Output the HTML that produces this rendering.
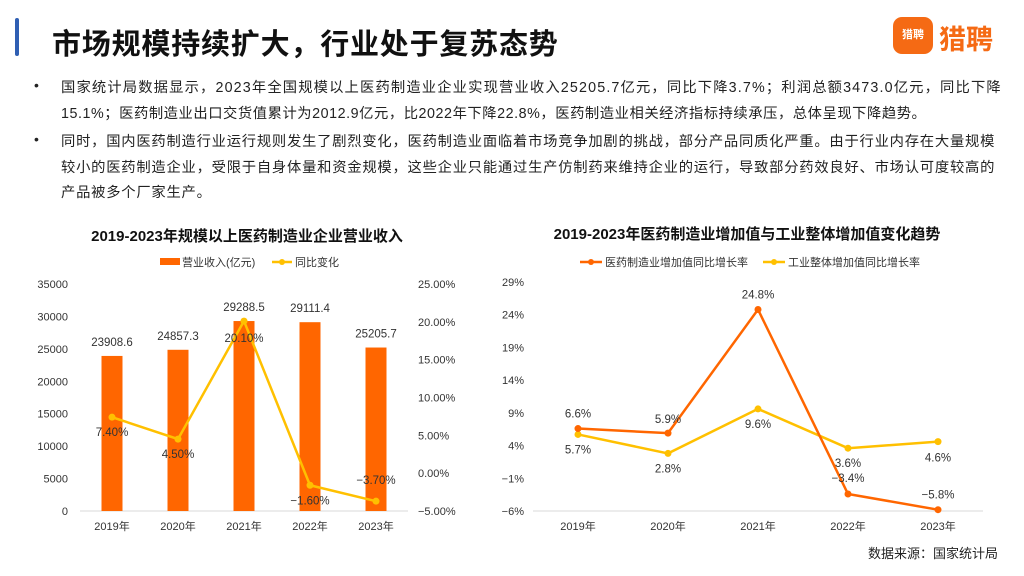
<!DOCTYPE html>
<html><head><meta charset="utf-8">
<style>
body{margin:0;width:1024px;height:576px;background:#fff;font-family:"Liberation Sans","Noto Sans CJK SC",sans-serif;position:relative;overflow:hidden;color:#222}
.bar{position:absolute;left:15px;top:18px;width:4px;height:38px;background:#2f5fb3;border-radius:2px}
.title{position:absolute;left:52px;top:21px;font-size:29px;font-weight:bold;color:#111;letter-spacing:0.8px;white-space:nowrap}
.logo{position:absolute;left:893px;top:17px;width:40px;height:37px;background:#f56a14;border-radius:9px;color:#fff;font-size:11px;font-weight:bold;text-align:center;line-height:37px}
.logot{position:absolute;left:939px;top:18px;font-size:27px;font-weight:bold;color:#f56a14}
.p{position:absolute;left:61px;font-size:14.3px;line-height:25.5px;color:#222;white-space:nowrap}
.p span{display:block}
.dot{position:absolute;left:34px;font-size:14px}
svg{position:absolute;left:0;top:0}
</style></head><body>
<div class="bar"></div>
<div class="title">市场规模持续扩大，行业处于复苏态势</div>
<div class="logo">猎聘</div>
<div class="logot">猎聘</div>
<div class="dot" style="top:77px">•</div>
<div class="p" style="top:76px"><span style="letter-spacing:1.15px">国家统计局数据显示，2023年全国规模以上医药制造业企业实现营业收入25205.7亿元，同比下降3.7%；利润总额3473.0亿元，同比下降</span><span style="letter-spacing:0.55px">15.1%；医药制造业出口交货值累计为2012.9亿元，比2022年下降22.8%，医药制造业相关经济指标持续承压，总体呈现下降趋势。</span></div>
<div class="dot" style="top:131px">•</div>
<div class="p" style="top:130px"><span style="letter-spacing:0.77px">同时，国内医药制造行业运行规则发生了剧烈变化，医药制造业面临着市场竞争加剧的挑战，部分产品同质化严重。由于行业内存在大量规模</span><span style="letter-spacing:0.77px">较小的医药制造企业，受限于自身体量和资金规模，这些企业只能通过生产仿制药来维持企业的运行，导致部分药效良好、市场认可度较高的</span><span style="letter-spacing:0.77px">产品被多个厂家生产。</span></div>
<div style="position:absolute;right:26px;top:543px;font-size:13px">数据来源：国家统计局</div>
<svg id="c" width="1024" height="576" font-family="Liberation Sans, Noto Sans CJK SC, sans-serif"></svg>
<script>
const years=["2019年","2020年","2021年","2022年","2023年"];
const revenue=[23908.6,24857.3,29288.5,29111.4,25205.7];
const yoy=[7.40,4.50,20.10,-1.60,-3.70];
const leftTicks=[0,5000,10000,15000,20000,25000,30000,35000];
const rightTicks=[-5,0,5,10,15,20,25];
const pharma=[6.6,5.9,24.8,-3.4,-5.8];
const industry=[5.7,2.8,9.6,3.6,4.6];
const growthTicks=[-6,-1,4,9,14,19,24,29];
const S=document.getElementById('c');
function el(t,a,txt){const e=document.createElementNS('http://www.w3.org/2000/svg',t);for(const k in a)e.setAttribute(k,a[k]);if(txt!==undefined)e.textContent=txt;S.appendChild(e);return e;}
// left chart
const lx=i=>112+i*66, ly=v=>511-v/35000*227, ry=v=>511-(v+5)/30*227;
let t=el('text',{x:247,y:241,'text-anchor':'middle','font-size':15,'font-weight':'bold',fill:'#111'},'2019-2023年规模以上医药制造业企业营业收入');

let r=el('rect',{x:160,y:258,width:20,height:7,fill:'#ff6600'});
el('text',{x:182,y:266,'font-size':11,fill:'#333'},'营业收入(亿元)');
let l=el('line',{x1:272,y1:262,x2:292,y2:262,stroke:'#ffc000','stroke-width':2.5});
el('circle',{cx:282,cy:262,r:3,fill:'#ffc000'});
el('text',{x:295,y:266,'font-size':11,fill:'#333'},'同比变化');
el('line',{x1:80,y1:511,x2:408,y2:511,stroke:'#d9d9d9'});
leftTicks.forEach(v=>{const e=el('text',{x:68,y:ly(v)+4,'text-anchor':'end','font-size':11,fill:'#333'},v);});
rightTicks.forEach(v=>{const e=el('text',{x:418,y:ry(v)+4,'font-size':11,fill:'#333'},(v<0?'−':'')+Math.abs(v).toFixed(2)+'%');});
years.forEach((y,i)=>{const e=el('text',{x:lx(i),y:530,'text-anchor':'middle','font-size':11,fill:'#333'},y);});
revenue.forEach((v,i)=>{const b=el('rect',{x:lx(i)-10.5,y:ly(v),width:21,height:511-ly(v),fill:'#ff6600'});
el('text',{x:lx(i),y:ly(v)-10,'text-anchor':'middle','font-size':11.5,fill:'#333'},v.toFixed(1));});
let p=el('polyline',{points:yoy.map((v,i)=>lx(i)+','+ry(v)).join(' '),fill:'none',stroke:'#ffc000','stroke-width':2.5});
yoy.forEach((v,i)=>{const c=el('circle',{cx:lx(i),cy:ry(v),r:3.5,fill:'#ffc000'});
const dy=(i==2)?21:(i==4?-17:19);el('text',{x:lx(i),y:ry(v)+dy,'text-anchor':'middle','font-size':11.5,fill:'#333'},(v<0?'−':'')+Math.abs(v).toFixed(2)+'%');});
// right chart
const gx=i=>578+i*90, gy=v=>511-(v+6)/35*229;
t=el('text',{x:747,y:239,'text-anchor':'middle','font-size':15,'font-weight':'bold',fill:'#111'},'2019-2023年医药制造业增加值与工业整体增加值变化趋势');

[[580,'#ff6600','医药制造业增加值同比增长率'],[763,'#ffc000','工业整体增加值同比增长率']].forEach(([x,c,s])=>{const g=el('line',{x1:x,y1:262,x2:x+22,y2:262,stroke:c,'stroke-width':2.5});el('circle',{cx:x+11,cy:262,r:3,fill:c});el('text',{x:x+25,y:266,'font-size':11,fill:'#333'},s);});
el('line',{x1:533,y1:511,x2:983,y2:511,stroke:'#d9d9d9'});
growthTicks.forEach(v=>{const e=el('text',{x:524,y:gy(v)+4,'text-anchor':'end','font-size':11,fill:'#333'},(v<0?'−':'')+Math.abs(v)+'%');});
years.forEach((y,i)=>{const e=el('text',{x:gx(i),y:530,'text-anchor':'middle','font-size':11,fill:'#333'},y);});
[[industry,'#ffc000','line-industry',[19,19,19,19,19]],[pharma,'#ff6600','line-pharma',[-11,-11,-11,-11,-11]]].forEach(([d,c,n,off])=>{
const q=el('polyline',{points:d.map((v,i)=>gx(i)+','+gy(v)).join(' '),fill:'none',stroke:c,'stroke-width':2.5});
d.forEach((v,i)=>{const c2=el('circle',{cx:gx(i),cy:gy(v),r:3.5,fill:c});
let dy=off[i];if(n=='line-pharma'&&i==3)dy=-12; if(n=='line-industry'&&i==3)dy=19; if(n=='line-industry'&&i==4)dy=20; if(n=='line-pharma'&&i==1)dy=-10;
el('text',{x:gx(i),y:gy(v)+dy,'text-anchor':'middle','font-size':11.5,fill:'#333'},(v<0?'−':'')+Math.abs(v).toFixed(1)+'%');});});
</script>
</body></html>
